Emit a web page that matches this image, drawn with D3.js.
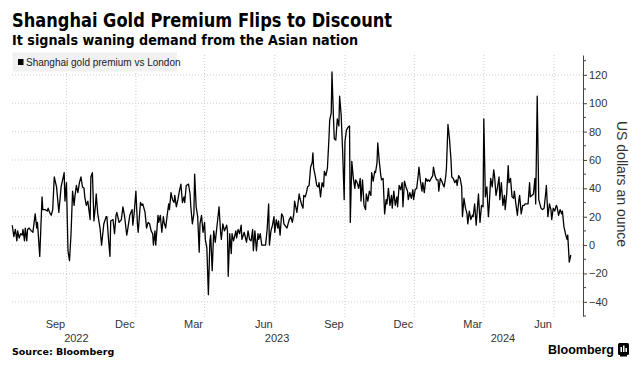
<!DOCTYPE html>
<html><head><meta charset="utf-8">
<script src="https://cdn.jsdelivr.net/npm/d3@7"></script>
<style>body{margin:0;background:#fff} svg{display:block}</style>
</head><body><svg id="c" width="641" height="366"></svg>
<script>
const titleText = "Shanghai Gold Premium Flips to Discount";
const subtitleText = "It signals waning demand from the Asian nation";
const seriesName = "Shanghai gold premium vs London";
const yAxisTitle = "US dollars an ounce";
const sourceText = "Source: Bloomberg";
const brandText = "Bloomberg";
const baseDate = "2022-09-01";

// day offsets from baseDate and premium values (USD/oz)
const days1 = [-71,-69,-67,-65,-64,-62,-60,-58,-57,-55,-54,-52,-51,-49,-46,-44,-41,-39,-38,-35,-32,-31,-28,-25,-24,-22,-20,-18,-16,-13,-10,-7,-3,-2,0,2,4,6,8,10,11,13,15,17,19,21,23,24,26,28,31,32,34,36,38,39,41,44,46,49,52,53,55,57,58,61,63,65,66,69,72,74,76,79,80,83,86,87,89,91,93,94,97,99,100,103,105,107,109,111,113,114,116,117,120];
const vals1 = [14,6,11,3,10,5,8,7,11,3,12,3,11,12,10,9,22,12,16,-8,34,25,25,24,26,23,21,25,48,41,23,41,51,31,44,-4,-11,8,38,28,34,42,37,44,48,41,40,34,28,31,18,48,51,17,28,36,22,12,0,15,20,20,5,-8,17,18,8,21,23,16,18,27,21,7,10,21,25,14,24,38,15,9,30,28,29,23,12,16,15,10,8,0,10,0,21];
const days2 = [121,123,125,127,128,130,132,134,135,137,139,141,142,144,146,148,150,152,154,155,157,160,162,163,165,167,168,170,172,174,175,177,179,181,182,184,186,188,189,191,193,195,196,198,200,202,203,205,207,210,211,212,214,216,217,219,222,223,225,227,229,230,233,236,238,240,242,244,245,247,249,251,252,254,256,258,261,263,265,266,268,270,272,273,275,277,278,280,282,284,285,289,292,294,296,298,299,302,305];
const vals2 = [16,21,9,20,16,12,21,29,25,37,32,30,35,27,32,38,43,30,34,30,42,43,36,27,15,22,50,27,20,-5,15,21,9,16,4,-2,-35,3,7,-18,10,2,7,17,27,9,4,15,10,14,10,-22,8,-6,8,3,10,5,11,8,14,4,9,2,10,4,3,11,-4,10,-4,8,4,8,0,0,0,11,29,0,10,14,20,9,18,12,17,7,22,20,15,12,18,20,16,22,31,23,36];
const days3 = [306,308,310,311,313,315,316,318,320,322,323,324,326,328,330,331,333,335,337,338,340,342,344,345,347,348,350,351,353,355,357,358,360,362,364,365,367,369,371,372,374,376,378,379,381,383,385,386,388,390,392,393,395,397,399,400,402,404,405,407,408,410,412,413,415,417,419,420,422,424,426,427,429,431,433,434,436,438,440,441,443,445,447,448,450,452,454,455,457,459,461,462,464,466,467,469,471,473,474,476,478,480,481,483,485,487,488,490,492,494,495];
const vals3 = [33,29,26,35,34,38,41,42,55,58,65,54,49,42,41,44,34,44,41,52,49,54,75,88,93,122,89,75,74,89,84,105,92,66,32,73,81,83,84,16,59,47,40,46,44,40,47,31,46,28,25,36,31,38,35,51,45,52,51,58,72,59,49,46,47,22,32,29,40,28,35,26,38,28,34,27,42,39,44,27,45,41,38,32,37,33,39,32,39,40,49,55,45,38,44,37,47,45,46,45,47,49,55,49,46,46,38,47,45,42,41];
const days4 = [497,498,500,502,504,505,507,509,511,512,514,516,518,519,521,523,525,526,528,530,532,533,535,537,539,540,542,544,546,547,549,551,553,554,556,558,560,561,563,565,567,568,570,572,574,575,577,579,580,582,584,586,587,589,591,593,594,596,598,600,601,603,605,607,608,610,612,614,615,617,619,621,622,624,626,628,629,631,633,635,636,638,640,642,643,645,647,649,650,652,654,656,657,659,661];
const vals4 = [48,54,85,75,60,48,47,44,46,42,49,47,41,20,33,26,22,15,24,18,21,20,29,14,29,36,16,28,27,89,34,41,20,27,47,41,53,49,35,41,48,32,44,28,35,25,36,56,44,47,34,33,38,29,21,32,35,22,28,28,29,29,29,44,34,35,36,47,29,105,32,28,26,25,26,36,42,20,29,25,18,26,24,28,27,21,25,22,24,13,8,4,7,-12,-7];

const yTicks = [-40,-20,0,20,40,60,80,100,120];
const yMinorTicks = [-50,-30,-10,10,30,50,70,90,110,130];
const monthTicks = ["2022-09-01","2022-12-01","2023-03-01","2023-06-01","2023-09-01","2023-12-01","2024-03-01","2024-06-01"];
const monthLabels = ["Sep","Dec","Mar","Jun","Sep","Dec","Mar","Jun"];
const yearLabels = ["2022","2023","2024"];
const yearLabelDates = ["2022-09-14","2023-06-04","2024-03-26"];

const base = new Date(baseDate + "T00:00:00Z");
const allDays = days1.concat(days2, days3, days4);
const allVals = vals1.concat(vals2, vals3, vals4);
const data = allDays.map((d, i) => ({date: d3.utcDay.offset(base, d), value: allVals[i]}));

const svg = d3.select("#c");
const L = 10, R = 583, T = 55, B = 316;
const x = d3.scaleUtc().domain([new Date("2022-06-19T00:00:00Z"), new Date("2024-07-09T00:00:00Z")]).range([L, R]);
const y = d3.scaleLinear().domain([-50, 134]).range([B, T]);

// titles
svg.append("text").attr("x", 12).attr("y", 27).text(titleText)
  .attr("font-family", "DejaVu Sans").attr("font-weight", "bold").attr("font-size", 19).attr("fill", "#000")
  .attr("textLength", 380).attr("lengthAdjust", "spacingAndGlyphs");
svg.append("text").attr("x", 12).attr("y", 45).text(subtitleText)
  .attr("font-family", "DejaVu Sans").attr("font-weight", "bold").attr("font-size", 13.5).attr("fill", "#000")
  .attr("textLength", 346).attr("lengthAdjust", "spacingAndGlyphs");

// grid
const grid = svg.append("g");
grid.selectAll("line.h").data(yTicks).join("line")
  .attr("x1", L + 2).attr("x2", R).attr("y1", d => y(d)).attr("y2", d => y(d))
  .attr("stroke", "#cfcfcf").attr("stroke-width", 1).attr("stroke-dasharray", "1,2");
grid.selectAll("line.v").data(monthTicks).join("line")
  .attr("x1", d => x(new Date(d + "T00:00:00Z"))).attr("x2", d => x(new Date(d + "T00:00:00Z")))
  .attr("y1", T).attr("y2", B + 2)
  .attr("stroke", "#cfcfcf").attr("stroke-width", 1).attr("stroke-dasharray", "1,2");

// legend
svg.append("rect").attr("x", 12.5).attr("y", 52.5).attr("width", 164.5).attr("height", 19).attr("fill", "#f1f1f1");
svg.append("rect").attr("x", 18).attr("y", 59).attr("width", 5.5).attr("height", 6).attr("fill", "#000");
svg.append("text").attr("x", 26).attr("y", 65.5).text(seriesName)
  .attr("font-family", "Liberation Sans").attr("font-size", 10).attr("fill", "#222");

// line
svg.append("path").datum(data)
  .attr("d", d3.line().x(d => x(d.date)).y(d => y(d.value)))
  .attr("fill", "none").attr("stroke", "#000").attr("stroke-width", 1.3).attr("stroke-linejoin", "round");

// right axis
const ax = svg.append("g").attr("transform", `translate(${R},0)`)
  .call(d3.axisRight(y).tickValues(yTicks).tickSize(4).tickSizeOuter(0).tickPadding(2).tickFormat(d3.format("d")));
ax.select(".domain").attr("stroke", "#444");
ax.selectAll(".tick line").attr("stroke", "#444");
ax.selectAll(".tick text").attr("font-family", "Liberation Sans").attr("font-size", 11).attr("fill", "#333");
ax.selectAll("line.minor").data(yMinorTicks).join("line").attr("class", "minor")
  .attr("x1", 0).attr("x2", 3).attr("y1", d => y(d)).attr("y2", d => y(d)).attr("stroke", "#444");

svg.append("text").attr("transform", `translate(617,184) rotate(90)`).attr("text-anchor", "middle")
  .text(yAxisTitle).attr("font-family", "Liberation Sans").attr("font-size", 14).attr("fill", "#333");

// x labels
svg.selectAll("text.m").data(monthTicks).join("text").attr("class", "m")
  .attr("x", d => x(new Date(d + "T00:00:00Z")) - 11).attr("y", 328).attr("text-anchor", "middle")
  .text((d, i) => monthLabels[i]).attr("font-family", "Liberation Sans").attr("font-size", 11).attr("fill", "#333");
svg.selectAll("text.yr").data(yearLabels).join("text").attr("class", "yr")
  .attr("x", (d, i) => x(new Date(yearLabelDates[i] + "T00:00:00Z"))).attr("y", 342).attr("text-anchor", "middle")
  .text(d => d).attr("font-family", "Liberation Sans").attr("font-size", 11).attr("fill", "#333");

// footer
svg.append("text").attr("x", 12).attr("y", 355).text(sourceText)
  .attr("font-family", "DejaVu Sans").attr("font-weight", "bold").attr("font-size", 9.5).attr("fill", "#000");
svg.append("text").attr("x", 614).attr("y", 354).attr("text-anchor", "end").text(brandText)
  .attr("font-family", "Liberation Sans").attr("font-weight", "bold").attr("font-size", 12.5).attr("fill", "#000");
const logo = svg.append("g").attr("transform", "translate(618,343)");
logo.append("rect").attr("width", 11).attr("height", 12).attr("rx", 1.5).attr("fill", "#000");
logo.append("rect").attr("x", 2.5).attr("y", 4).attr("width", 1.5).attr("height", 5).attr("fill", "#fff");
logo.append("rect").attr("x", 5).attr("y", 2.5).attr("width", 1.5).attr("height", 6.5).attr("fill", "#fff");
logo.append("rect").attr("x", 7.5).attr("y", 5).attr("width", 1.5).attr("height", 4).attr("fill", "#fff");
logo.append("rect").attr("x", 2).attr("y", 12).attr("width", 7).attr("height", 1.5).attr("fill", "#000");
</script></body></html>
